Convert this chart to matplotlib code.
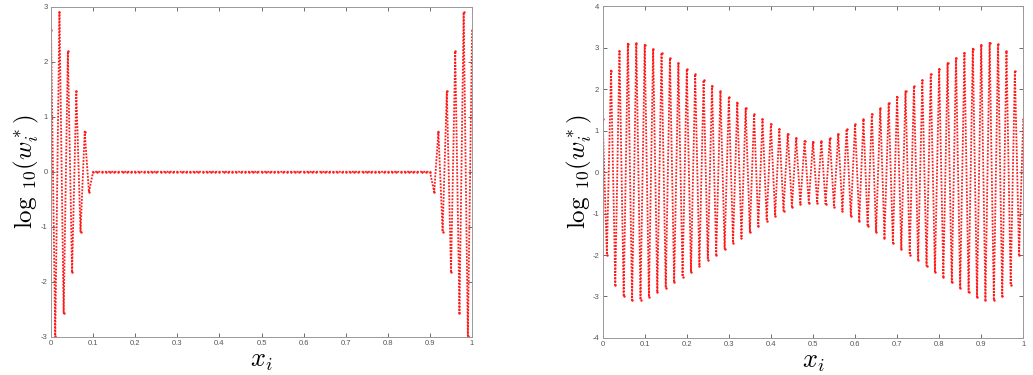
import numpy as np
import matplotlib
matplotlib.use("Agg")
import matplotlib.pyplot as plt

plt.rcParams['mathtext.fontset'] = 'cm'
plt.rcParams['font.family'] = ['Liberation Sans', 'DejaVu Sans']

# sample positions x_i (101 equally spaced nodes on [0, 1])
x_i = np.linspace(0.0, 1.0, 101)

# left panel: log10(w_i*)
left_log_w = [
    2.57, -2.98, 2.90, -2.57, 2.19, -1.83, 1.46, -1.09, 0.73, -0.37,
    0.0, 0.0, 0.0, 0.0, 0.0, 0.0, 0.0, 0.0, 0.0, 0.0,
    0.0, 0.0, 0.0, 0.0, 0.0, 0.0, 0.0, 0.0, 0.0, 0.0,
    0.0, 0.0, 0.0, 0.0, 0.0, 0.0, 0.0, 0.0, 0.0, 0.0,
    0.0, 0.0, 0.0, 0.0, 0.0, 0.0, 0.0, 0.0, 0.0, 0.0,
    0.0, 0.0, 0.0, 0.0, 0.0, 0.0, 0.0, 0.0, 0.0, 0.0,
    0.0, 0.0, 0.0, 0.0, 0.0, 0.0, 0.0, 0.0, 0.0, 0.0,
    0.0, 0.0, 0.0, 0.0, 0.0, 0.0, 0.0, 0.0, 0.0, 0.0,
    0.0, 0.0, 0.0, 0.0, 0.0, 0.0, 0.0, 0.0, 0.0, 0.0,
    0.0, -0.37, 0.73, -1.09, 1.46, -1.83, 2.19, -2.57, 2.90, -2.98,
    2.57,
]

# right panel: log10(w_i*)
right_log_w = [
    1.28, -1.99, 2.45, -2.72, 2.92, -3.00, 3.10, -3.09, 3.12, -3.08,
    3.07, -3.01, 2.98, -2.90, 2.88, -2.79, 2.75, -2.66, 2.63, -2.52,
    2.49, -2.40, 2.36, -2.26, 2.22, -2.11, 2.08, -1.99, 1.95, -1.85,
    1.82, -1.71, 1.68, -1.58, 1.54, -1.44, 1.40, -1.31, 1.28, -1.17,
    1.16, -1.05, 1.04, -0.93, 0.92, -0.83, 0.82, -0.77, 0.75, -0.74,
    0.73,
    -0.74, 0.75, -0.77, 0.82, -0.83, 0.92, -0.93, 1.04, -1.05, 1.16,
    -1.17, 1.28, -1.31, 1.40, -1.44, 1.54, -1.58, 1.68, -1.71, 1.82,
    -1.85, 1.95, -1.99, 2.08, -2.11, 2.22, -2.26, 2.36, -2.40, 2.49,
    -2.52, 2.63, -2.66, 2.75, -2.79, 2.88, -2.90, 2.98, -3.01, 3.07,
    -3.08, 3.12, -3.09, 3.10, -3.00, 2.92, -2.72, 2.45, -1.99, 1.28,
]

x_ticks = [0, 0.1, 0.2, 0.3, 0.4, 0.5, 0.6, 0.7, 0.8, 0.9, 1]
x_tick_labels = ["0", "0.1", "0.2", "0.3", "0.4", "0.5", "0.6", "0.7", "0.8", "0.9", "1"]
left_y_ticks = [-3, -2, -1, 0, 1, 2, 3]
right_y_ticks = [-4, -3, -2, -1, 0, 1, 2, 3, 4]

fig = plt.figure(figsize=(10.33, 3.75), dpi=100)
ax1 = fig.add_axes([0.0494, 0.102, 0.4076, 0.880])
ax2 = fig.add_axes([0.5834, 0.099, 0.4072, 0.884])

panels = [(ax1, left_log_w, left_y_ticks), (ax2, right_log_w, right_y_ticks)]
for ax, yv, yt in panels:
    ax.plot(x_i, yv, color='#ff1a1a', linestyle=(0, (1, 0.8)), linewidth=1.3,
            marker='.', markersize=3.5, markeredgewidth=0)
    ax.set_xlim(0, 1)
    ax.set_ylim(yt[0], yt[-1])
    ax.set_xticks(x_ticks)
    ax.set_xticklabels(x_tick_labels)
    ax.set_yticks(yt)
    ax.set_yticklabels([str(v) for v in yt])
    ax.tick_params(direction='in', length=3, width=0.6, colors='#555555',
                   labelsize=5.5, top=True, right=True, pad=2.5)
    for s in ax.spines.values():
        s.set_color('#999999')
        s.set_linewidth(0.7)
    ax.set_xlabel(r'$x_i$', fontsize=19)
    ax.xaxis.set_label_coords(0.5, -0.036)
    ax.set_ylabel(r'$\log\,{}_{10}(w_i^*)$', fontsize=18)

ax1.yaxis.set_label_coords(-0.024, 0.5)
ax2.yaxis.set_label_coords(-0.020, 0.5)

fig.savefig('out.png', dpi=100)
